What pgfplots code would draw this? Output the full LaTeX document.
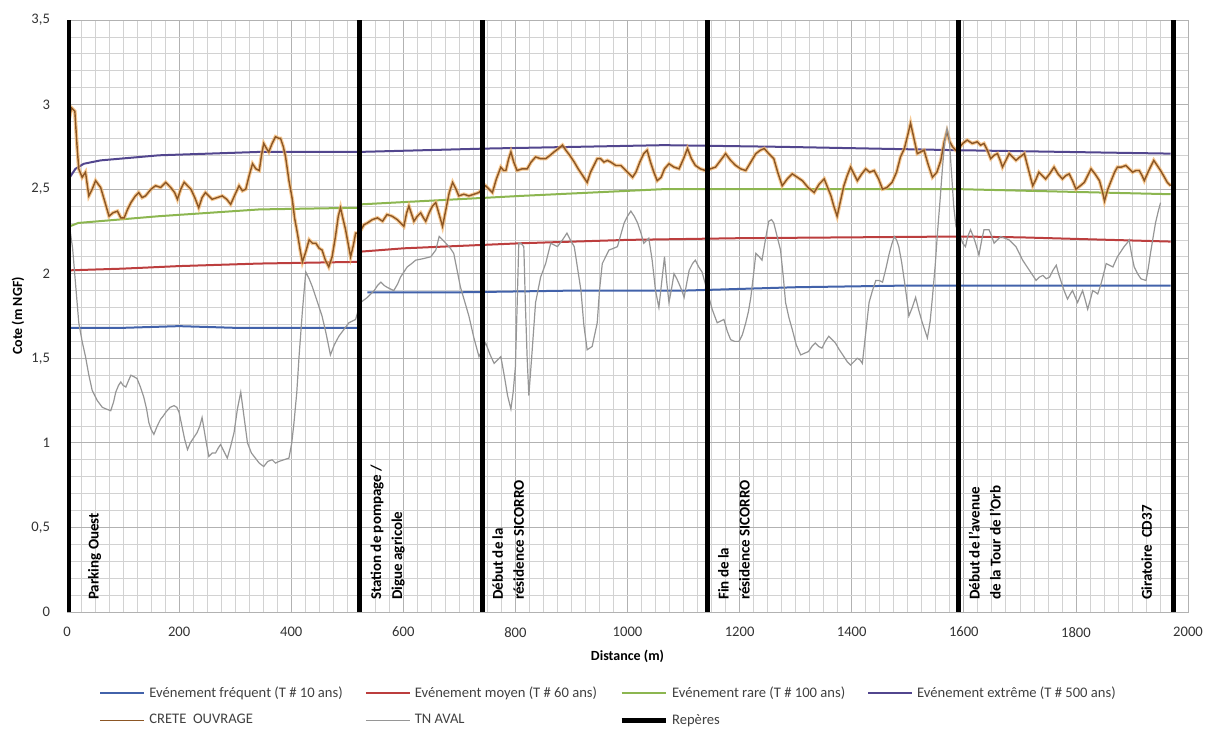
\documentclass[border=0pt]{standalone}
\usepackage{fontspec}
\setmainfont{Carlito}
\usepackage{pgfplots}
\pgfplotsset{compat=1.18}
\definecolor{cfreq}{RGB}{66,98,170}
\definecolor{cmoy}{RGB}{188,62,62}
\definecolor{crare}{RGB}{140,182,80}
\definecolor{cextr}{RGB}{82,70,142}
\definecolor{ccrete}{RGB}{140,86,36}
\definecolor{chalo}{RGB}{242,178,102}
\definecolor{ctn}{RGB}{150,150,150}
\begin{document}
\begin{tikzpicture}
\path[use as bounding box] (0,0) rectangle (602.5pt,365.5pt);
\begin{axis}[
  at={(33.5pt,59.5pt)}, anchor=south west,
  scale only axis, width=560.5pt, height=296pt,
  xmin=0, xmax=2000, ymin=0, ymax=3.5,
  xtick={0,200,400,600,800,1000,1200,1400,1600,1800,2000},
  ytick={0,0.5,1,1.5,2,2.5,3,3.5},
  minor x tick num=7, minor y tick num=4,
  grid=both,
  major grid style={gray!60, line width=0.4pt},
  minor grid style={gray!35, line width=0.35pt},
  axis line style={gray!60},
  major tick length=0pt, minor tick length=0pt,
  scaled ticks=false,
  tick label style={font=\fontsize{7.3}{8}\selectfont, text=black!80},
  /pgf/number format/assume math mode=true,
  /pgf/number format/use comma,
  /pgf/number format/1000 sep={},
  xticklabel style={yshift=-4pt},
  yticklabel style={xshift=-5pt},
  xlabel={Distance (m)}, ylabel={Cote (m NGF)},
  label style={font=\fontsize{7}{8}\selectfont\bfseries},
  xlabel style={at={(axis description cs:0.5,-0.0743)}, anchor=center},
  ylabel style={at={(axis description cs:-0.0437,0.5)}, anchor=center},
  unbounded coords=jump,
  legend columns=4,
  legend cell align=left,
  legend style={at={(axis description cs:0.0232,-0.1115)}, anchor=north west,
    draw=none, fill=none, font=\fontsize{7.3}{8}\selectfont, text=black!75,
    /tikz/every even column/.append style={column sep=9pt}, row sep=3pt},
  legend image code/.code={\draw[#1] (0pt,0pt) -- (22pt,0pt);},
]
\addplot[cfreq, line width=1pt] coordinates {(5,1.68)(100,1.68)(200,1.69)(300,1.68)(400,1.68)(518,1.68)(520,nan)(536,1.89)(700,1.89)(900,1.90)(1100,1.90)(1300,1.92)(1500,1.93)(1700,1.93)(1969,1.93)};
\addlegendentry{Evénement fréquent (T \# 10 ans)}
\addplot[cmoy, line width=1pt] coordinates {(5,2.02)(100,2.03)(200,2.045)(343,2.06)(518,2.07)(520,nan)(522,2.13)(600,2.15)(810,2.18)(1000,2.20)(1200,2.21)(1400,2.215)(1592,2.22)(1700,2.215)(1969,2.19)};
\addlegendentry{Evénement moyen (T \# 60 ans)}
\addplot[crare, line width=1pt] coordinates {(5,2.28)(20,2.30)(164,2.34)(343,2.38)(521,2.39)(524,2.41)(810,2.46)(1065,2.50)(1300,2.50)(1590,2.50)(1969,2.47)};
\addlegendentry{Evénement rare (T \# 100 ans)}
\addplot[cextr, line width=1pt] coordinates {(5,2.57)(15,2.62)(30,2.65)(60,2.67)(164,2.70)(343,2.72)(521,2.72)(750,2.74)(1065,2.76)(1276,2.75)(1592,2.73)(1969,2.71)};
\addlegendentry{Evénement extrême (T \# 500 ans)}
\pgfplotstableread{
d v
3 2.90
8 2.98
14 2.96
18 2.75
21 2.62
27 2.57
33 2.60
39 2.46
45 2.50
51 2.55
60 2.51
68 2.42
75 2.34
82 2.36
90 2.37
96 2.33
102 2.33
108 2.38
114 2.42
122 2.46
128 2.48
134 2.45
140 2.46
150 2.50
158 2.52
167 2.51
176 2.54
185 2.51
192 2.48
197 2.44
203 2.50
209 2.54
215 2.52
221 2.50
228 2.45
235 2.39
241 2.45
247 2.48
253 2.46
259 2.44
268 2.45
277 2.46
285 2.44
292 2.41
300 2.47
307 2.52
313 2.49
319 2.50
325 2.58
331 2.65
337 2.62
343 2.61
347 2.70
351 2.77
356 2.74
360 2.72
366 2.77
372 2.81
378 2.80
381 2.80
386 2.75
390 2.69
396 2.55
402 2.44
406 2.33
411 2.24
416 2.14
420 2.07
426 2.13
432 2.20
438 2.18
444 2.18
450 2.15
455 2.14
461 2.08
467 2.04
473 2.10
479 2.22
484 2.34
488 2.39
492 2.33
497 2.26
502 2.17
506 2.10
511 2.17
515 2.24
521 2.24
530 2.29
536 2.30
545 2.32
554 2.33
563 2.31
571 2.35
580 2.34
589 2.32
595 2.30
601 2.28
606 2.36
610 2.40
615 2.35
619 2.31
625 2.34
631 2.36
636 2.33
640 2.31
646 2.36
652 2.40
658 2.42
664 2.35
670 2.28
676 2.38
682 2.48
688 2.54
694 2.50
699 2.46
708 2.47
717 2.46
726 2.47
735 2.48
741 2.50
747 2.52
753 2.50
759 2.48
766 2.56
774 2.63
779 2.61
783 2.61
788 2.68
792 2.72
797 2.66
803 2.61
812 2.62
821 2.62
828 2.66
836 2.69
845 2.68
854 2.68
862 2.70
869 2.72
877 2.74
884 2.76
890 2.73
897 2.70
905 2.66
912 2.62
920 2.58
928 2.54
934 2.60
940 2.64
946 2.68
952 2.68
958 2.66
964 2.67
970 2.66
979 2.64
988 2.64
997 2.61
1003 2.59
1009 2.57
1015 2.60
1022 2.66
1029 2.71
1035 2.73
1041 2.66
1047 2.60
1053 2.55
1060 2.57
1066 2.62
1074 2.65
1083 2.63
1092 2.62
1100 2.68
1107 2.74
1114 2.68
1121 2.64
1130 2.62
1139 2.61
1148 2.62
1157 2.63
1166 2.67
1175 2.71
1184 2.67
1193 2.64
1202 2.62
1211 2.61
1220 2.66
1229 2.71
1237 2.73
1244 2.74
1252 2.71
1261 2.68
1268 2.60
1276 2.52
1285 2.56
1294 2.59
1303 2.57
1312 2.55
1322 2.51
1333 2.48
1342 2.53
1351 2.56
1357 2.51
1363 2.46
1368 2.40
1374 2.34
1380 2.43
1386 2.52
1392 2.58
1398 2.63
1404 2.59
1410 2.55
1418 2.59
1425 2.62
1432 2.60
1440 2.61
1448 2.56
1455 2.50
1463 2.51
1472 2.54
1480 2.60
1487 2.69
1494 2.74
1500 2.82
1505 2.89
1511 2.80
1517 2.71
1523 2.72
1529 2.73
1536 2.65
1544 2.57
1552 2.60
1559 2.67
1565 2.78
1570 2.84
1575 2.78
1580 2.75
1586 2.73
1591 2.74
1598 2.77
1606 2.79
1615 2.77
1624 2.78
1630 2.76
1636 2.77
1642 2.73
1648 2.68
1654 2.70
1660 2.71
1665 2.67
1669 2.63
1675 2.67
1681 2.71
1687 2.69
1693 2.67
1700 2.69
1708 2.71
1715 2.62
1723 2.52
1729 2.56
1734 2.60
1740 2.58
1746 2.56
1753 2.59
1761 2.63
1768 2.59
1776 2.56
1782 2.58
1788 2.59
1794 2.55
1800 2.50
1808 2.52
1815 2.54
1821 2.58
1827 2.62
1834 2.59
1842 2.55
1847 2.49
1851 2.43
1857 2.50
1863 2.55
1869 2.60
1874 2.63
1881 2.63
1889 2.64
1895 2.62
1901 2.60
1907 2.61
1913 2.61
1918 2.58
1922 2.55
1930 2.61
1939 2.67
1945 2.64
1951 2.61
1958 2.57
1963 2.54
1969 2.52
}\crete
\pgfplotstableread{
d v
5 2.27
10 2.15
15 1.95
21 1.71
27 1.60
33 1.51
39 1.40
45 1.31
54 1.25
63 1.21
70 1.20
78 1.19
83 1.24
87 1.30
92 1.34
96 1.36
100 1.34
105 1.33
110 1.37
114 1.40
120 1.39
125 1.38
131 1.33
137 1.27
142 1.20
146 1.12
150 1.08
155 1.05
161 1.10
167 1.14
172 1.16
176 1.18
184 1.21
191 1.22
196 1.21
200 1.18
205 1.10
210 1.02
215 0.96
220 1.00
224 1.02
232 1.06
237 1.10
241 1.15
247 1.03
253 0.92
259 0.94
265 0.94
270 0.97
274 0.99
280 0.95
286 0.91
292 0.98
298 1.06
304 1.20
310 1.30
316 1.15
322 1.00
329 0.94
336 0.91
343 0.88
351 0.86
358 0.89
366 0.90
372 0.88
378 0.89
387 0.90
396 0.91
401 1.00
405 1.12
410 1.30
414 1.51
420 1.78
426 2.01
432 1.97
438 1.92
446 1.84
455 1.75
462 1.65
470 1.52
477 1.58
485 1.63
494 1.67
503 1.71
515 1.73
521 1.80
524 1.83
536 1.86
548 1.90
554 1.93
560 1.95
566 1.93
571 1.92
583 1.90
590 1.94
595 1.98
601 2.01
607 2.04
615 2.06
622 2.08
637 2.09
649 2.10
658 2.14
664 2.22
670 2.20
676 2.18
684 2.15
690 2.12
696 2.02
702 1.92
710 1.83
717 1.75
726 1.62
735 1.51
741 1.55
747 1.59
755 1.52
762 1.47
768 1.49
774 1.51
780 1.40
786 1.28
792 1.20
796 1.30
800 1.45
803 1.80
806 2.18
810 2.18
815 2.16
818 1.80
821 1.50
824 1.28
830 1.55
836 1.83
845 1.98
854 2.06
863 2.18
869 2.17
875 2.16
884 2.20
892 2.24
898 2.20
905 2.16
911 2.03
917 1.90
922 1.70
928 1.55
937 1.57
946 1.71
950 1.90
955 2.06
961 2.10
967 2.14
975 2.15
982 2.16
988 2.23
994 2.30
1000 2.34
1006 2.37
1012 2.34
1018 2.30
1024 2.24
1029 2.18
1035 2.20
1038 2.21
1044 2.08
1050 1.90
1056 1.80
1061 1.95
1066 2.10
1070 1.95
1074 1.83
1079 1.92
1083 2.00
1088 1.97
1092 1.94
1097 1.90
1101 1.86
1106 1.95
1110 2.02
1116 2.06
1121 2.08
1127 2.04
1133 2.01
1138 1.95
1142 1.90
1147 1.84
1151 1.79
1160 1.71
1166 1.72
1172 1.73
1178 1.66
1184 1.61
1191 1.60
1199 1.60
1205 1.64
1211 1.71
1216 1.78
1220 1.86
1225 2.00
1229 2.12
1235 2.10
1240 2.08
1246 2.20
1252 2.31
1257 2.32
1261 2.30
1267 2.22
1273 2.14
1278 1.98
1282 1.83
1288 1.74
1294 1.67
1301 1.58
1309 1.52
1316 1.53
1323 1.54
1329 1.57
1335 1.59
1341 1.57
1347 1.56
1353 1.60
1359 1.63
1365 1.61
1371 1.59
1378 1.55
1386 1.51
1392 1.48
1398 1.46
1404 1.48
1410 1.50
1415 1.49
1419 1.47
1425 1.65
1431 1.83
1437 1.90
1443 1.96
1449 1.96
1455 1.95
1461 2.03
1467 2.12
1472 2.18
1476 2.22
1480 2.20
1484 2.16
1489 2.07
1493 1.98
1498 1.86
1502 1.75
1508 1.80
1514 1.86
1520 1.78
1526 1.71
1531 1.66
1535 1.62
1540 1.72
1544 1.86
1549 2.05
1553 2.24
1558 2.45
1562 2.63
1566 2.78
1570 2.86
1574 2.80
1578 2.60
1582 2.40
1586 2.28
1591 2.24
1594 2.22
1598 2.18
1603 2.16
1607 2.22
1612 2.26
1617 2.22
1621 2.18
1627 2.11
1632 2.20
1636 2.26
1645 2.26
1650 2.22
1654 2.18
1660 2.20
1666 2.22
1673 2.21
1681 2.20
1687 2.18
1693 2.16
1699 2.12
1705 2.08
1711 2.05
1717 2.02
1723 1.99
1729 1.96
1735 1.98
1741 1.99
1747 1.97
1753 1.98
1759 2.02
1765 2.05
1769 2.00
1773 1.96
1779 1.90
1785 1.85
1790 1.88
1794 1.90
1799 1.86
1803 1.83
1808 1.87
1812 1.90
1817 1.84
1821 1.79
1826 1.85
1830 1.90
1835 1.89
1839 1.88
1844 1.93
1848 1.98
1854 2.06
1860 2.05
1866 2.04
1870 2.07
1874 2.10
1880 2.13
1886 2.16
1891 2.18
1895 2.20
1899 2.12
1904 2.04
1910 2.00
1916 1.97
1925 1.96
1929 2.03
1933 2.12
1938 2.22
1942 2.30
1947 2.37
1951 2.42
}\tnaval
\addplot[chalo, line width=1.8pt, opacity=0.7, forget plot] table[x=d, y=v] {\crete};
\addplot[ccrete, line width=0.7pt] table[x=d, y=v] {\crete};
\addlegendentry{CRETE\ \ OUVRAGE}
\addplot[ctn, line width=0.6pt] table[x=d, y=v] {\tnaval};
\addlegendentry{TN AVAL}
\addplot[black, line width=2.5pt] coordinates {(3,0)(3,3.5)};
\addlegendentry{Repères}
\addplot[black, line width=2.5pt, forget plot] coordinates {(522,0)(522,3.5)};
\addplot[black, line width=2.5pt, forget plot] coordinates {(741,0)(741,3.5)};
\addplot[black, line width=2.5pt, forget plot] coordinates {(1142,0)(1142,3.5)};
\addplot[black, line width=2.5pt, forget plot] coordinates {(1590,0)(1590,3.5)};
\addplot[black, line width=2.5pt, forget plot] coordinates {(1974,0)(1974,3.5)};
\begin{scope}[every node/.style={rotate=90, anchor=north west, align=left, inner sep=0pt, font=\fontsize{7.5}{10.5}\selectfont\bfseries}]
\node at (axis cs:37,0.07) {Parking Ouest};
\node at (axis cs:541,0.07) {Station de pompage /\\Digue agricole};
\node at (axis cs:758,0.07) {Début de la\\résidence SICORRO};
\node at (axis cs:1161,0.07) {Fin de la\\résidence SICORRO};
\node at (axis cs:1608,0.07) {Début de l'avenue\\de la Tour de l'Orb};
\node at (axis cs:1916,0.07) {Giratoire\ \ CD37};
\end{scope}
\end{axis}
\end{tikzpicture}
\end{document}
